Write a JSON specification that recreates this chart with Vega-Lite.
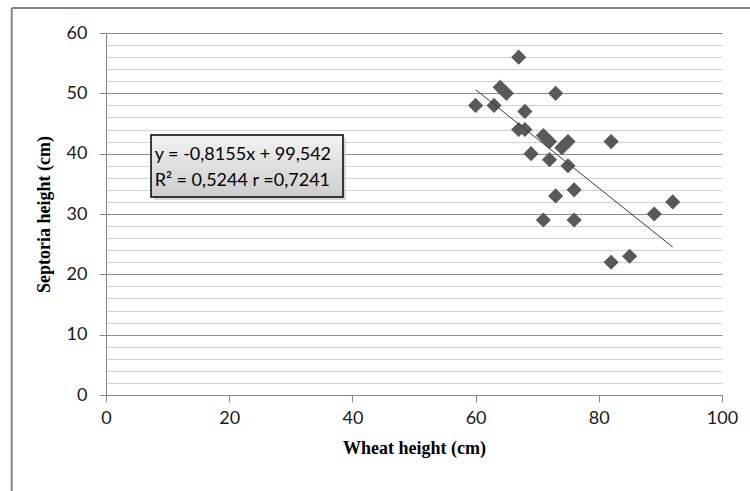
{
  "$schema": "https://vega.github.io/schema/vega-lite/v6.json",
  "width": 616,
  "height": 362,
  "autosize": {"type": "none"},
  "padding": {"left": 106, "top": 33, "right": 28, "bottom": 96},
  "background": "white",
  "config": {"view": {"stroke": null}},
  "datasets": {
    "points": [
      {"x": 60, "y": 48}, {"x": 63, "y": 48}, {"x": 64, "y": 51}, {"x": 65, "y": 50},
      {"x": 67, "y": 56}, {"x": 68, "y": 47}, {"x": 73, "y": 50}, {"x": 67, "y": 44},
      {"x": 68, "y": 44}, {"x": 69, "y": 40}, {"x": 71, "y": 43}, {"x": 72, "y": 42},
      {"x": 75, "y": 42}, {"x": 74, "y": 41}, {"x": 72, "y": 39}, {"x": 75, "y": 38},
      {"x": 82, "y": 42}, {"x": 73, "y": 33}, {"x": 76, "y": 34}, {"x": 71, "y": 29},
      {"x": 76, "y": 29}, {"x": 89, "y": 30}, {"x": 92, "y": 32}, {"x": 82, "y": 22},
      {"x": 85, "y": 23}
    ],
    "trend": [{"x": 60, "y": 50.612}, {"x": 92, "y": 24.516}],
    "frame": [
      {"x": -15.3, "x2": -15.3, "y": 64.15, "y2": -17},
      {"x": -15.3, "x2": 107, "y": 64.15, "y2": 64.15}
    ],
    "box": [{"x": 7.31, "x2": 38.47, "y": 43.1, "y2": 32.82}],
    "shadow": [{"x": 7.8, "x2": 38.96, "y": 42.6, "y2": 32.32}],
    "labels": [
      {"x": 7.9, "y": 39.8, "t": "y = -0,8155x + 99,542"},
      {"x": 7.9, "y": 35.4, "t": "R² = 0,5244 r =0,7241"}
    ]
  },
  "encoding": {
    "x": {
      "field": "x", "type": "quantitative",
      "scale": {"domain": [0, 100], "nice": false, "zero": false},
      "axis": {
        "values": [0, 20, 40, 60, 80, 100],
        "title": "Wheat height (cm)",
        "titleFont": "Liberation Serif", "titleFontSize": 18, "titleFontWeight": "bold", "titleColor": "#000",
        "titlePadding": 12,
        "labelFont": "Lato", "labelFontSize": 18, "labelColor": "#1a1a1a", "labelPadding": 7,
        "tickSize": 7, "tickColor": "#868686", "domainColor": "#868686", "domainWidth": 1,
        "grid": false, "labelFlush": false
      }
    },
    "y": {
      "field": "y", "type": "quantitative",
      "scale": {"domain": [0, 60], "nice": false, "zero": false},
      "axis": {
        "values": [0, 2, 4, 6, 8, 10, 12, 14, 16, 18, 20, 22, 24, 26, 28, 30, 32, 34, 36, 38, 40, 42, 44, 46, 48, 50, 52, 54, 56, 58, 60],
        "labelExpr": "datum.value % 10 === 0 ? datum.label : ''",
        "title": "Septoria height (cm)",
        "titleFont": "Liberation Serif", "titleFontSize": 18, "titleFontWeight": "bold", "titleColor": "#000",
        "titlePadding": 13,
        "labelFont": "Lato", "labelFontSize": 18, "labelColor": "#1a1a1a", "labelPadding": 12,
        "tickSize": 7, "tickColor": "#868686",
        "tickOpacity": {"condition": {"test": "datum.value % 10 === 0", "value": 1}, "value": 0},
        "domainColor": "#868686", "domainWidth": 1,
        "grid": true,
        "gridColor": {"condition": {"test": "datum.value % 10 === 0", "value": "#8c8c8c"}, "value": "#d0d0d0"},
        "gridWidth": 1.2
      }
    }
  },
  "layer": [
    {
      "data": {"name": "points"},
      "mark": {"type": "point", "shape": "diamond", "filled": true, "size": 230, "color": "#595959", "opacity": 1}
    },
    {
      "data": {"name": "trend"},
      "mark": {"type": "line", "color": "#3a3a3a", "strokeWidth": 1}
    },
    {
      "data": {"name": "frame"},
      "mark": {"type": "rule", "color": "#868686", "strokeWidth": 2, "clip": false},
      "encoding": {
        "x2": {"field": "x2"},
        "y2": {"field": "y2"}
      }
    },
    {
      "data": {"name": "shadow"},
      "mark": {"type": "rect", "fill": "#c8c8c8", "opacity": 0.7},
      "encoding": {
        "x2": {"field": "x2"},
        "y2": {"field": "y2"}
      }
    },
    {
      "data": {"name": "box"},
      "mark": {
        "type": "rect",
        "fill": {"gradient": "linear", "x1": 0, "y1": 0, "x2": 0, "y2": 1,
                 "stops": [{"offset": 0, "color": "#f2f2f2"}, {"offset": 1, "color": "#cdcdcd"}]},
        "stroke": "#000", "strokeWidth": 1.5
      },
      "encoding": {
        "x2": {"field": "x2"},
        "y2": {"field": "y2"}
      }
    },
    {
      "data": {"name": "labels"},
      "mark": {"type": "text", "align": "left", "baseline": "middle", "font": "Lato", "fontSize": 18, "color": "#000"},
      "encoding": {
        "text": {"field": "t"}
      }
    }
  ]
}
